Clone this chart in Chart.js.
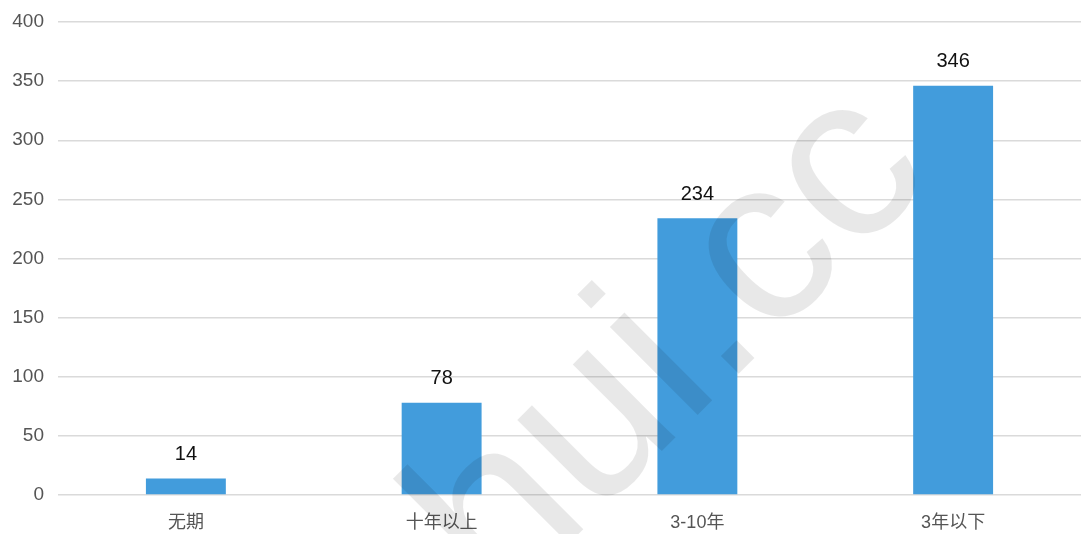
<!DOCTYPE html>
<html>
<head>
<meta charset="utf-8">
<script src="https://cdn.jsdelivr.net/npm/chart.js@4/dist/chart.umd.min.js"></script>
<style>
  html, body { margin: 0; padding: 0; background: #fff; }
  #wrap { width: 1081px; height: 534px; position: relative; }
</style>
</head>
<body>
<div id="wrap"><canvas id="chart"></canvas></div>
<script>
// данные
const categories = ['无期', '十年以上', '3-10年', '3年以下'];
const counts = [14, 78, 234, 346];
const yTicks = [0, 50, 100, 150, 200, 250, 300, 350, 400];

const FONT = '"Liberation Sans", Arial, "Noto Sans CJK SC", sans-serif';
Chart.defaults.font.family = FONT;
Chart.defaults.color = '#555';

// подписи значений над столбцами
const valueLabels = {
    id: 'valueLabels',
    afterDatasetsDraw(chart) {
        const ctx = chart.ctx;
        const meta = chart.getDatasetMeta(0);
        ctx.save();
        ctx.font = '20px ' + FONT;
        ctx.fillStyle = '#111';
        ctx.textAlign = 'center';
        ctx.textBaseline = 'bottom';
        meta.data.forEach((bar, i) => {
            ctx.fillText(chart.data.datasets[0].data[i], bar.x, bar.y - 14);
        });
        ctx.restore();
    }
};

// водяной знак
const watermark = {
    id: 'watermark',
    afterDraw(chart) {
        const ctx = chart.ctx;
        ctx.save();
        ctx.translate(673, 348);
        ctx.rotate(-45 * Math.PI / 180);
        ctx.font = '235px ' + FONT;
        ctx.fillStyle = 'rgba(0, 0, 0, 0.09)';
        ctx.textAlign = 'center';
        ctx.textBaseline = 'middle';
        ctx.fillText('hui.cc', 0, 0);
        ctx.restore();
    }
};

new Chart(document.getElementById('chart'), {
    type: 'bar',
    data: {
        labels: categories,
        datasets: [{
            data: counts,
            backgroundColor: '#429cdc',
            categoryPercentage: 1,
            barPercentage: 0.3125
        }]
    },
    plugins: [valueLabels, watermark],
    options: {
        responsive: true,
        maintainAspectRatio: false,
        animation: false,
        layout: { padding: { top: 22, right: 0, bottom: 0, left: 0 } },
        plugins: {
            legend: { display: false },
            tooltip: { enabled: false }
        },
        scales: {
            x: {
                grid: { display: false },
                border: { display: false },
                ticks: { font: { size: 18 }, color: '#555', padding: 9 },
                afterFit: s => { s.height = 39; }
            },
            y: {
                min: 0,
                max: 400,
                afterBuildTicks: s => { s.ticks = yTicks.map(v => ({ value: v })); },
                grid: { color: '#dadada', lineWidth: 1.5, drawTicks: false },
                border: { display: false },
                ticks: { font: { size: 19 }, color: '#555', padding: 14 },
                afterFit: s => { s.width = 58; s.paddingTop = 0; s.paddingBottom = 0; }
            }
        }
    }
});
</script>
</body>
</html>
